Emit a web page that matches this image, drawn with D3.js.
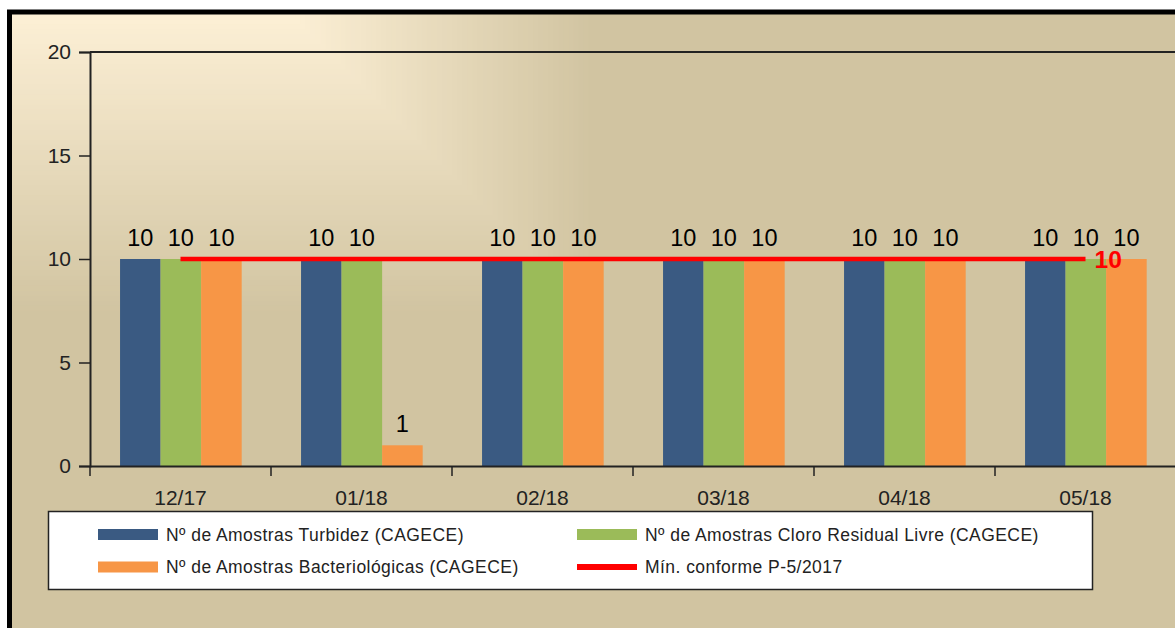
<!DOCTYPE html>
<html>
<head>
<meta charset="utf-8">
<script src="https://d3js.org/d3.v7.min.js"></script>
<style>
  body { margin: 0; overflow: hidden; background: #fff; }
  svg { display: block; font-family: "Liberation Sans", Arial, sans-serif; }
</style>
</head>
<body>
<div id="chart"></div>
<script>
const categories = ["12/17", "01/18", "02/18", "03/18", "04/18", "05/18"];
const turbidez = [10, 10, 10, 10, 10, 10];
const cloro = [10, 10, 10, 10, 10, 10];
const bacterio = [10, 1, 10, 10, 10, 10];
const minimo = [10, 10, 10, 10, 10, 10];
const yTicks = [0, 5, 10, 15, 20];

const seriesNames = [
  "Nº de Amostras Turbidez (CAGECE)",
  "Nº de Amostras Cloro Residual Livre (CAGECE)",
  "Nº de Amostras Bacteriológicas (CAGECE)"
];
const lineName = "Mín. conforme P-5/2017";
const colors = ["#3a5a82", "#9bbb59", "#f79646"];
const seriesValues = [turbidez, cloro, bacterio];

const width = 1175, height = 628;

const svg = d3.select("#chart")
  .append("svg")
  .attr("width", width)
  .attr("height", height);

svg.append("rect")
  .attr("x", 0).attr("y", 0)
  .attr("width", width).attr("height", height)
  .attr("fill", "#fff");

// base fill of the chart area
svg.append("rect")
  .attr("x", 9.5).attr("y", 12)
  .attr("width", width + 20).attr("height", height + 20)
  .attr("fill", "#d1c4a1");

// rectangular gradient from the top-left corner, drawn as nested steps
const bgColor = d3.interpolateRgb("#fdf0d6", "#d1c4a1");
const steps = d3.range(60, -1, -1).map(k => k / 60);
svg.append("g")
  .selectAll("rect")
  .data(steps)
  .join("rect")
  .attr("x", 12).attr("y", 14)
  .attr("width", t => 290 + 304 * t - 12)
  .attr("height", t => Math.max(0.5, 302 * t))
  .attr("fill", t => bgColor(t));

// outer frame
svg.append("rect")
  .attr("x", 9.5).attr("y", 12)
  .attr("width", width + 20).attr("height", height + 20)
  .attr("fill", "none")
  .attr("stroke", "#000")
  .attr("stroke-width", 5);

const plotLeft = 90, plotTop = 52, plotBottom = 466;
const step = 181;

const x = d3.scaleBand()
  .domain(categories)
  .range([plotLeft, plotLeft + step * categories.length])
  .padding(0);

const x1 = d3.scaleBand()
  .domain(d3.range(seriesValues.length))
  .range([x.bandwidth() * 0.166, x.bandwidth() * 0.838])
  .padding(0);

const y = d3.scaleLinear()
  .domain([0, 20])
  .range([plotBottom, plotTop]);

// bars
seriesValues.forEach((vals, s) => {
  svg.append("g")
    .selectAll("rect")
    .data(vals)
    .join("rect")
    .attr("x", (_, i) => x(categories[i]) + x1(s))
    .attr("y", d => y(d))
    .attr("width", x1.bandwidth())
    .attr("height", d => y(0) - y(d))
    .attr("fill", colors[s]);
});

// axes
const yAxis = svg.append("g")
  .attr("transform", `translate(${plotLeft},0)`)
  .call(d3.axisLeft(y).tickValues(yTicks).tickSize(11).tickPadding(8));
yAxis.attr("font-size", 21).attr("font-family", "Liberation Sans, Arial, sans-serif");
yAxis.select(".domain").attr("stroke", "#222").attr("stroke-width", 2);
yAxis.selectAll(".tick line").attr("stroke", "#222").attr("stroke-width", 1.5);
yAxis.selectAll("text").attr("fill", "#222");

const xAxis = svg.append("g")
  .attr("transform", `translate(0,${plotBottom})`)
  .call(d3.axisBottom(x).tickSize(0).tickPadding(24));
xAxis.attr("font-size", 21).attr("font-family", "Liberation Sans, Arial, sans-serif");
xAxis.select(".domain").attr("stroke", "#222").attr("stroke-width", 2);
xAxis.selectAll("text").attr("fill", "#222");

// category separator ticks
svg.append("g")
  .selectAll("line")
  .data(categories)
  .join("line")
  .attr("x1", d => x(d)).attr("x2", d => x(d))
  .attr("y1", plotBottom).attr("y2", plotBottom + 10)
  .attr("stroke", "#222").attr("stroke-width", 1.5);

// top border of plot area
svg.append("line")
  .attr("x1", plotLeft).attr("x2", width)
  .attr("y1", y(20)).attr("y2", y(20))
  .attr("stroke", "#222").attr("stroke-width", 2);

// value labels
seriesValues.forEach((vals, s) => {
  svg.append("g")
    .selectAll("text")
    .data(vals)
    .join("text")
    .text(d => d)
    .attr("x", (_, i) => x(categories[i]) + x1(s) + x1.bandwidth() / 2)
    .attr("y", d => y(d) - 13)
    .attr("text-anchor", "middle")
    .attr("font-size", 23.5)
    .attr("fill", "#000");
});

// minimum line
const line = d3.line()
  .x((_, i) => x(categories[i]) + x.bandwidth() / 2)
  .y(d => y(d));

svg.append("path")
  .datum(minimo)
  .attr("d", line)
  .attr("fill", "none")
  .attr("stroke", "#ff0000")
  .attr("stroke-width", 4.5);

const last = minimo.length - 1;
svg.append("text")
  .text(minimo[last])
  .attr("x", x(categories[last]) + x.bandwidth() / 2 + 9)
  .attr("y", y(minimo[last]))
  .attr("dy", "0.36em")
  .attr("font-size", 24.5)
  .attr("font-weight", "bold")
  .attr("fill", "#ff0000");

// legend
const legend = svg.append("g");
legend.append("rect")
  .attr("x", 48.5).attr("y", 511.5)
  .attr("width", 1044).attr("height", 78)
  .attr("fill", "#fff")
  .attr("stroke", "#222")
  .attr("stroke-width", 1.5);

const legendItems = [
  { name: seriesNames[0], color: colors[0], type: "bar", col: 0, row: 0 },
  { name: seriesNames[1], color: colors[1], type: "bar", col: 1, row: 0 },
  { name: seriesNames[2], color: colors[2], type: "bar", col: 0, row: 1 },
  { name: lineName, color: "#ff0000", type: "line", col: 1, row: 1 }
];
const colX = [98, 577];
const rowY = [534.5, 567];

const items = legend.selectAll("g.item")
  .data(legendItems)
  .join("g")
  .attr("class", "item")
  .attr("transform", d => `translate(${colX[d.col]},${rowY[d.row]})`);

items.append("rect")
  .attr("x", 0)
  .attr("y", d => d.type === "bar" ? -5.5 : -3)
  .attr("width", 60)
  .attr("height", d => d.type === "bar" ? 11 : 6)
  .attr("fill", d => d.color);

items.append("text")
  .text(d => d.name)
  .attr("x", 68)
  .attr("dy", "0.36em")
  .attr("font-size", 17.5)
  .attr("letter-spacing", 0.45)
  .attr("fill", "#222");
</script>
</body>
</html>
